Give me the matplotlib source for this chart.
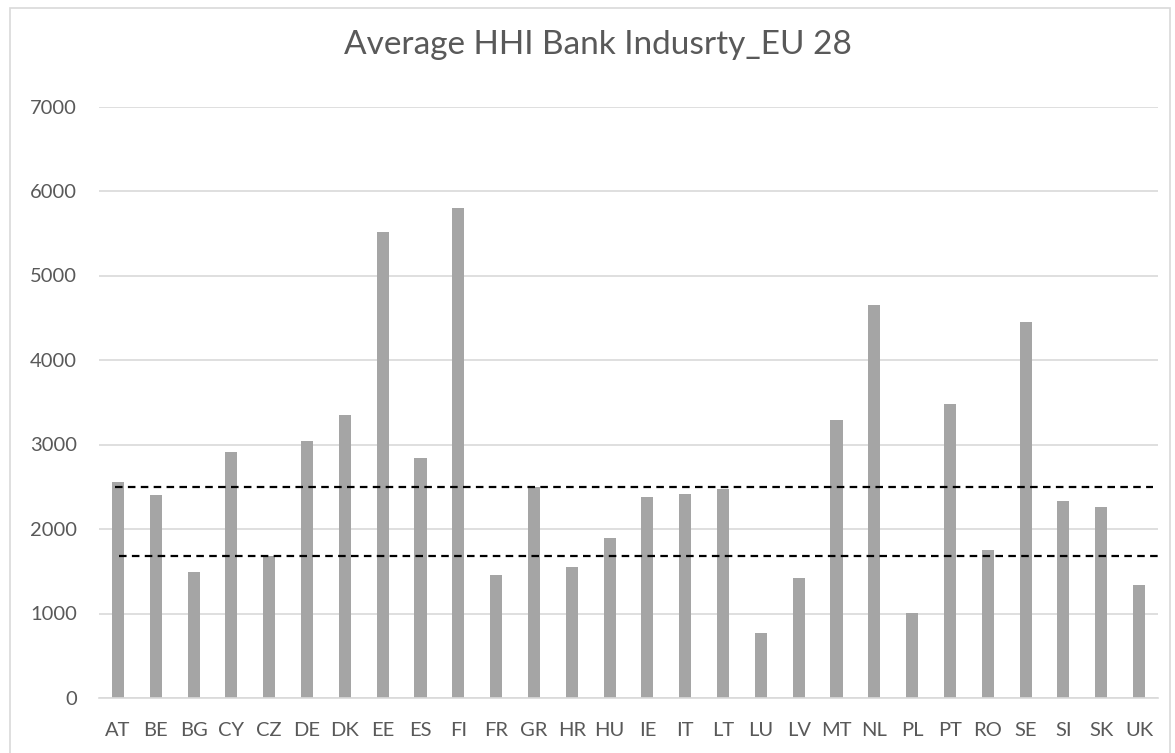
import matplotlib
matplotlib.use("Agg")
import matplotlib.pyplot as plt
from matplotlib.patches import Rectangle

countries = ["AT", "BE", "BG", "CY", "CZ", "DE", "DK", "EE", "ES", "FI", "FR", "GR", "HR", "HU",
             "IE", "IT", "LT", "LU", "LV", "MT", "NL", "PL", "PT", "RO", "SE", "SI", "SK", "UK"]
hhi = [2553, 2402, 1487, 2915, 1680, 3037, 3345, 5513, 2840, 5797, 1459, 2493, 1550, 1890,
       2375, 2414, 2470, 773, 1420, 3289, 4648, 1009, 3482, 1751, 4450, 2328, 2257, 1341]
threshold_high = 2500
threshold_low = 1684
yticks = [0, 1000, 2000, 3000, 4000, 5000, 6000, 7000]
title = "Average HHI Bank Indusrty_EU 28"

plt.rcParams['font.family'] = ['Lato', 'DejaVu Sans']

fig = plt.figure(figsize=(11.75, 7.53), dpi=100)
ax = fig.add_axes([99/1175, 1-698/753, (1158-99)/1175, (698-106.5)/753])

x = list(range(len(countries)))
ax.bar(x, hhi, width=0.32, color="#A5A5A5", zorder=2)

ax.axhline(threshold_high, xmin=16/1059, xmax=1054/1059, color="black", lw=1.6,
           linestyle=(0, (3.4, 2.4)), zorder=3)
ax.axhline(threshold_low, xmin=20/1059, xmax=1.0, color="black", lw=1.6,
           linestyle=(0, (3.4, 2.4)), zorder=3)

ax.set_xlim(-0.5, len(countries) - 0.5)
ax.set_ylim(0, 7000)
ax.set_yticks(yticks)
ax.set_xticks(x)
ax.set_xticklabels(countries)
ax.yaxis.grid(True, color="#D9D9D9", lw=1.2, zorder=0)
ax.set_axisbelow(True)
for s in ["left", "right", "top"]:
    ax.spines[s].set_visible(False)
ax.spines["bottom"].set_color("#D9D9D9")
ax.spines["bottom"].set_linewidth(1.2)
ax.tick_params(axis="both", length=0, labelsize=14.5, labelcolor="#595959")
ax.tick_params(axis="y", pad=16)
ax.tick_params(axis="x", pad=17)

fig.text(598/1175, 1-45/753, title, ha="center", va="center", fontsize=24, color="#595959")

fig.patches.append(Rectangle((10/1175, -0.1), 1160/1175, 1.1 - 8/753, transform=fig.transFigure,
                             fill=False, edgecolor="#D9D9D9", lw=1.2))

fig.savefig("out.png", dpi=100, facecolor="white")
